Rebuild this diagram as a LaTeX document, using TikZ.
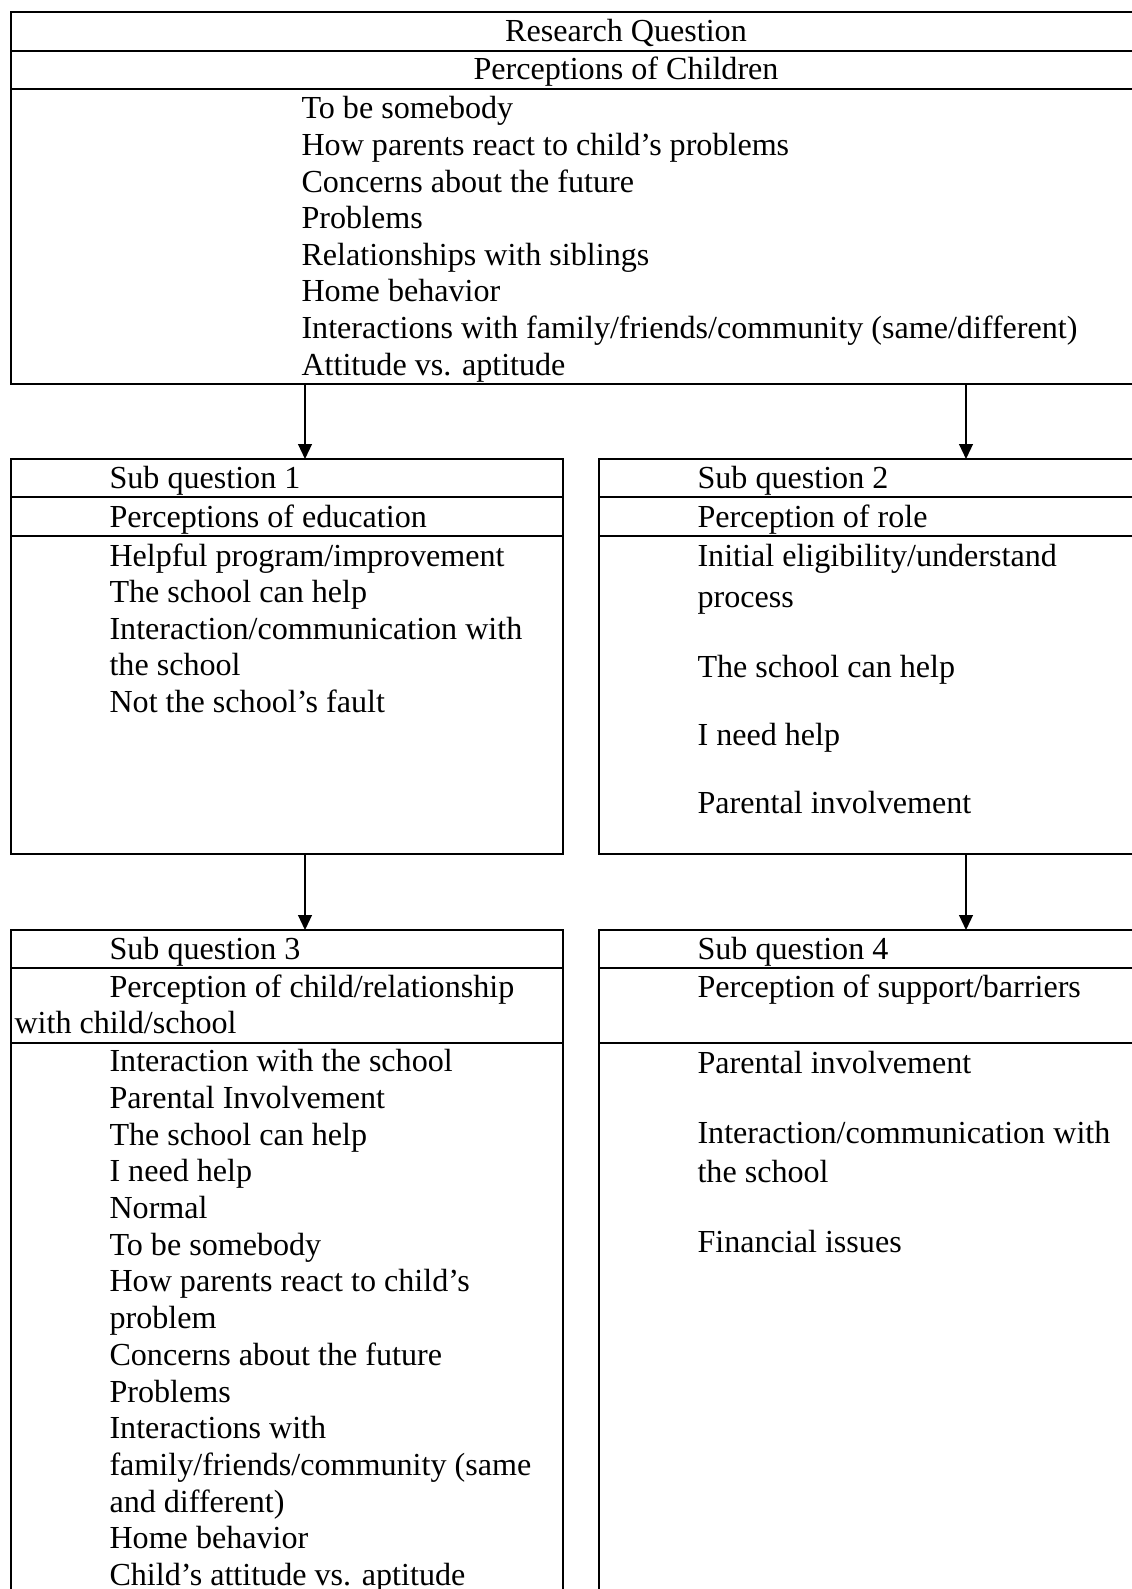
\documentclass[tikz,border=0pt]{standalone}
\usepackage{fontspec}
\setmainfont{Liberation Serif}
\usetikzlibrary{arrows.meta}
\newlength\pxu
\setlength\pxu{0.38pt}
\begin{document}
\begin{tikzpicture}[x=0.38pt,y=-0.38pt,
  box/.style={draw, line width=0.8pt, rectangle, inner sep=0pt, outer sep=0pt, anchor=north west},
  div/.style={line width=0.8pt},
  txt/.style={anchor=base west, inner sep=0pt, font=\fontsize{12.2pt}{14pt}\selectfont},
  ctxt/.style={anchor=base, inner sep=0pt, font=\fontsize{12.2pt}{14pt}\selectfont},
  arr/.style={line width=0.5pt, -{Triangle[width=5.3pt,length=5.7pt]}}]
\useasboundingbox (0,0) rectangle (1131,1589);

% boxes
\node[box, minimum width=1240\pxu, minimum height=372\pxu] (rq) at (11,12) {};
\node[box, minimum width=552\pxu, minimum height=395\pxu] (sq1) at (11,459) {};
\node[box, minimum width=700\pxu, minimum height=395\pxu] (sq2) at (599,459) {};
\node[box, minimum width=552\pxu, minimum height=800\pxu] (sq3) at (11,930) {};
\node[box, minimum width=700\pxu, minimum height=800\pxu] (sq4) at (599,930) {};

% dividers
\draw[div] (11,51) -- (1251,51);
\draw[div] (11,89) -- (1251,89);
\draw[div] (11,497) -- (563,497);
\draw[div] (11,536) -- (563,536);
\draw[div] (599,497) -- (1299,497);
\draw[div] (599,536) -- (1299,536);
\draw[div] (11,968) -- (563,968);
\draw[div] (11,1043) -- (563,1043);
\draw[div] (599,968) -- (1299,968);
\draw[div] (599,1043) -- (1299,1043);

% arrows
\coordinate (ax1) at (305,0);
\coordinate (ax2) at (966,0);
\draw[arr] (rq.south -| ax1) -- (sq1.north -| ax1);
\draw[arr] (rq.south -| ax2) -- (sq2.north -| ax2);
\draw[arr] (sq1.south -| ax1) -- (sq3.north -| ax1);
\draw[arr] (sq2.south -| ax2) -- (sq4.north -| ax2);

% top box texts
\node[ctxt] (rqh1) at (626,42) {Research Question};
\node[ctxt] (rqh2) at (626,80) {Perceptions of Children};
\node[txt] (rqt1) at (301,119) {To be somebody};
\node[txt] (rqt2) at (301,155.6) {How parents react to child’s problems};
\node[txt] (rqt3) at (301,192.2) {Concerns about the future};
\node[txt] (rqt4) at (301,228.8) {Problems};
\node[txt] (rqt5) at (301,265.4) {Relationships with siblings};
\node[txt] (rqt6) at (301,302) {Home behavior};
\node[txt] (rqt7) at (301,338.6) {Interactions with family/friends/community (same/different)};
\node[txt] (rqt8) at (301,375.2) {Attitude vs. aptitude};

% sub question 1
\node[txt] (s1h1) at (109,488) {Sub question 1};
\node[txt] (s1h2) at (109,527) {Perceptions of education};
\node[txt] (s1t1) at (109,566) {Helpful program/improvement};
\node[txt] (s1t2) at (109,602.5) {The school can help};
\node[txt] (s1t3) at (109,639) {Interaction/communication with};
\node[txt] (s1t4) at (109,675.5) {the school};
\node[txt] (s1t5) at (109,712) {Not the school’s fault};

% sub question 2
\node[txt] (s2h1) at (697,488) {Sub question 2};
\node[txt] (s2h2) at (697,527) {Perception of role};
\node[txt] (s2t1) at (697,566) {Initial eligibility/understand};
\node[txt] (s2t2) at (697,607) {process};
\node[txt] (s2t3) at (697,677) {The school can help};
\node[txt] (s2t4) at (697,745) {I need help};
\node[txt] (s2t5) at (697,813) {Parental involvement};

% sub question 3
\node[txt] (s3h1) at (109,959) {Sub question 3};
\node[txt] (s3h2) at (109,997) {Perception of child/relationship};
\node[txt] (s3h3) at (14,1033) {with child/school};
\node[txt] (s3t1) at (109,1071.7) {Interaction with the school};
\node[txt] (s3t2) at (109,1108.4) {Parental Involvement};
\node[txt] (s3t3) at (109,1145.1) {The school can help};
\node[txt] (s3t4) at (109,1181.8) {I need help};
\node[txt] (s3t5) at (109,1218.5) {Normal};
\node[txt] (s3t6) at (109,1255.2) {To be somebody};
\node[txt] (s3t7) at (109,1291.9) {How parents react to child’s};
\node[txt] (s3t8) at (109,1328.6) {problem};
\node[txt] (s3t9) at (109,1365.3) {Concerns about the future};
\node[txt] (s3t10) at (109,1402) {Problems};
\node[txt] (s3t11) at (109,1438.7) {Interactions with};
\node[txt] (s3t12) at (109,1475.4) {family/friends/community (same};
\node[txt] (s3t13) at (109,1512.1) {and different)};
\node[txt] (s3t14) at (109,1548.8) {Home behavior};
\node[txt] (s3t15) at (109,1585.5) {Child’s attitude vs. aptitude};

% sub question 4
\node[txt] (s4h1) at (697,959) {Sub question 4};
\node[txt] (s4h2) at (697,997) {Perception of support/barriers};
\node[txt] (s4t1) at (697,1073) {Parental involvement};
\node[txt] (s4t2) at (697,1143) {Interaction/communication with};
\node[txt] (s4t3) at (697,1182) {the school};
\node[txt] (s4t4) at (697,1252) {Financial issues};
\end{tikzpicture}
\end{document}
